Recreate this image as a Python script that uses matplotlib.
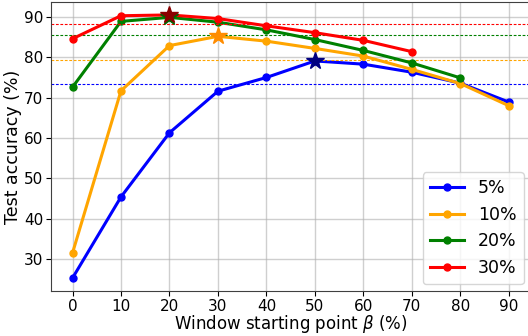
import numpy as np
import matplotlib
matplotlib.use("Agg")
import matplotlib.pyplot as plt

beta = [0, 10, 20, 30, 40, 50, 60, 70, 80, 90]

acc_5 = [25.3, 45.4, 61.3, 71.6, 75.0, 79.1, 78.3, 76.3, 73.6, 68.9]
acc_10 = [31.5, 71.7, 82.9, 85.2, 84.0, 82.2, 80.3, 77.0, 73.5, 68.0]
acc_20 = [72.6, 88.9, 89.9, 88.7, 86.8, 84.4, 81.7, 78.6, 74.9]
acc_30 = [84.6, 90.3, 90.5, 89.6, 87.8, 86.1, 84.2, 81.4]

labels = ["5%", "10%", "20%", "30%"]
series = [acc_5, acc_10, acc_20, acc_30]
colors = ["blue", "orange", "green", "red"]
star_colors = ["navy", "darkorange", "darkgreen", "darkred"]
baselines = [73.3, 79.3, 85.6, 88.2]

fig = plt.figure(figsize=(5.28, 3.36), dpi=100)
ax = fig.add_axes([0.096, 0.134, 0.909, 0.860])

for acc, lab, c, sc, base in zip(series, labels, colors, star_colors, baselines):
    x = beta[:len(acc)]
    ax.plot(x, acc, color=c, marker="o", markersize=5, linewidth=2.2, label=lab)
    i = int(np.argmax(acc))
    ax.plot(x[i], acc[i], marker="*", color=sc, markersize=13, zorder=5)
    ax.axhline(base, color=c, linestyle="--", linewidth=0.8, dashes=(2.5, 1.5))

ax.set_xlim(-4.5, 94.5)
ax.set_ylim(22.1, 93.7)
ax.set_xticks(beta)
ax.set_yticks([30, 40, 50, 60, 70, 80, 90])
ax.grid(True, color="#b0b0b0", linewidth=1.0, alpha=0.6)
ax.set_axisbelow(True)
ax.tick_params(labelsize=11, pad=2)
for s in ax.spines.values():
    s.set_color("#404040")
ax.set_xlabel(r"Window starting point $\beta$ (%)", fontsize=12, labelpad=-0.5)
ax.set_ylabel("Test accuracy (%)", fontsize=12.5, labelpad=1)
ax.legend(loc="lower right", fontsize=12.5, handlelength=2.0, borderaxespad=0.4)

fig.savefig("out.png", dpi=100)
